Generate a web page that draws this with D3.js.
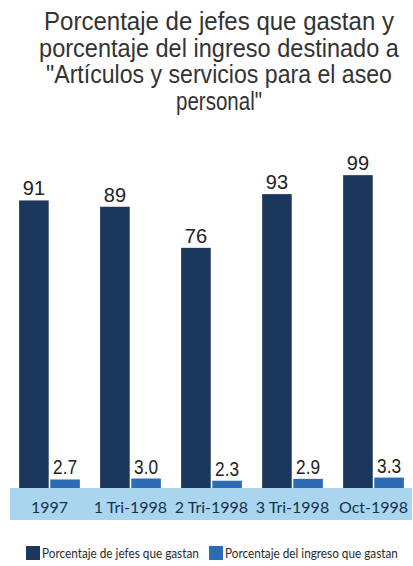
<!DOCTYPE html>
<html>
<head>
<meta charset="utf-8">
<script src="https://cdn.jsdelivr.net/npm/d3@7"></script>
<style>
  body { margin: 0; background: #fff; }
  svg { display: block; }
</style>
</head>
<body>
<svg id="chart" width="413" height="566"></svg>
<script>
// datos
const categories = ["1997", "1 Tri-1998", "2 Tri-1998", "3 Tri-1998", "Oct-1998"];
const jefes = [91, 89, 76, 93, 99];
const ingreso = [2.7, 3.0, 2.3, 2.9, 3.3];
const seriesNames = ["Porcentaje de jefes que gastan", "Porcentaje del ingreso que gastan"];
const titleLines = [
  "Porcentaje de jefes que gastan y",
  "porcentaje del ingreso destinado a",
  "\"Artículos y servicios para el aseo",
  "personal\""
];

const colors = ["#1b375c", "#2b6cb5"];
const baseY = 488;

const svg = d3.select("#chart");

// comprime un texto horizontalmente hasta el ancho dado
function squeeze(sel, widthFn, anchorX, yFn) {
  sel.each(function (d, i) {
    const w0 = this.getComputedTextLength();
    const k = Math.min(1, widthFn(d, i) / w0);
    d3.select(this)
      .attr("x", 0)
      .attr("y", 0)
      .attr("transform", `translate(${anchorX(d, i)},${yFn(d, i)}) scale(${k},1)`);
  });
}

// titulo
const titleWidths = [350, 360, 346, 86];
svg.append("g")
  .selectAll("text")
  .data(titleLines)
  .join("text")
  .attr("text-anchor", "middle")
  .attr("font-family", "'Liberation Sans', Arial, sans-serif")
  .attr("font-size", 25.5)
  .attr("fill", "#333")
  .text(d => d)
  .call(squeeze, (d, i) => titleWidths[i], () => 219, (d, i) => 30 + i * 26.7);

// escalas
const x0 = d3.scaleBand()
  .domain(categories)
  .range([11, 412])
  .paddingInner(0.25)
  .paddingOuter(0.1);

const x1 = d3.scaleBand()
  .domain([0, 1])
  .range([0, x0.bandwidth()])
  .paddingInner(0.05);

const y = d3.scaleLinear()
  .domain([0, 100])
  .range([baseY, baseY - 316]);

// banda de categorias
svg.append("rect")
  .attr("x", 10)
  .attr("y", baseY)
  .attr("width", 402)
  .attr("height", 32)
  .attr("fill", "#a9d5ef");

const data = categories.map((c, i) => ({ cat: c, values: [jefes[i], ingreso[i]] }));

const groups = svg.append("g")
  .selectAll("g")
  .data(data)
  .join("g")
  .attr("transform", d => `translate(${x0(d.cat)},0)`);

groups.selectAll("rect")
  .data(d => d.values.map((v, k) => ({ k, v })))
  .join("rect")
  .attr("x", d => x1(d.k))
  .attr("y", d => y(d.v))
  .attr("width", x1.bandwidth())
  .attr("height", d => y(0) - y(d.v))
  .attr("fill", d => colors[d.k]);

groups.selectAll("text.val")
  .data(d => d.values.map((v, k) => ({ k, v })))
  .join("text")
  .attr("class", "val")
  .attr("text-anchor", "middle")
  .attr("font-family", "'Liberation Sans', Arial, sans-serif")
  .attr("font-size", 20)
  .attr("fill", "#222")
  .text(d => d.k === 0 ? d.v : d.v.toFixed(1))
  .call(squeeze, () => 24, d => x1(d.k) + x1.bandwidth() / 2, d => y(d.v) - 5);

// eje x
const xAxis = g => g
  .attr("transform", `translate(0, ${baseY})`)
  .call(d3.axisBottom(x0).tickSize(0).tickPadding(14))
  .call(g => g.select(".domain").remove())
  .call(g => g.selectAll("text")
    .attr("font-family", "Lato, 'Open Sans', sans-serif")
    .attr("font-size", 16)
    .attr("fill", "#1a2f4d"));

svg.append("g").call(xAxis);

// leyenda
const legendX = [26, 209];
const legendW = [157, 173];
const legend = svg.append("g")
  .selectAll("g")
  .data(seriesNames)
  .join("g")
  .attr("transform", (d, i) => `translate(${legendX[i]}, 546)`);

legend.append("rect")
  .attr("width", 14)
  .attr("height", 14)
  .attr("fill", (d, i) => colors[i]);

legend.append("text")
  .attr("font-family", "Lato, 'Open Sans', sans-serif")
  .attr("font-size", 14)
  .attr("fill", "#2a2a2a")
  .text(d => d)
  .call(squeeze, (d, i) => legendW[i], () => 16, () => 11.5);
</script>
</body>
</html>
